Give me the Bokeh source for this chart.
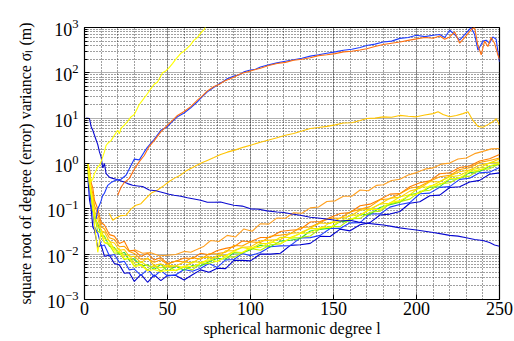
from bokeh.plotting import figure
from bokeh.models import Range1d, FixedTicker
from bokeh.embed import file_html
from bokeh.resources import INLINE

# ---------------- data ----------------
# shared degree grid of the bundle of low-noise curves
L_BUNDLE = [2, 3, 4, 5, 6, 8, 10, 12, 15, 18, 21, 24, 27, 30, 34, 38, 42, 46, 50,
            55, 60, 65, 70, 75, 80, 85, 90, 95, 100,
            106, 112, 118, 124, 130, 136, 142, 148, 154, 160, 166, 172, 178, 184,
            190, 196, 202, 208, 214, 220, 226, 232, 238, 244, 250]

B_BLUE1 = [0.5, 0.16, 0.1, 0.04, 0.034, 0.014, 0.016, 0.009, 0.0095, 0.0062, 0.0058, 0.0038,
           0.0039, 0.0025, 0.0036, 0.0024, 0.0035, 0.0026, 0.0034,
           0.0034, 0.0027, 0.0035, 0.0045, 0.004, 0.0049, 0.0048, 0.0073, 0.0073, 0.0071,
           0.0101, 0.01, 0.0105, 0.0156, 0.0161, 0.0173, 0.0247, 0.0246, 0.0357, 0.0327,
           0.0446, 0.0497, 0.0729, 0.0766, 0.0873, 0.133, 0.143, 0.195, 0.201, 0.295, 0.306,
           0.391, 0.424, 0.58, 0.62]
B_BLUE2 = [0.7, 0.33, 0.12, 0.085, 0.04, 0.029, 0.015, 0.016, 0.0092, 0.0098, 0.0066, 0.007,
           0.0045, 0.0047, 0.0034, 0.0046, 0.0032, 0.0044, 0.0033,
           0.0035, 0.0046, 0.0042, 0.0049, 0.0062, 0.0051, 0.0075, 0.0076, 0.0103, 0.0093,
           0.0109, 0.0146, 0.0152, 0.0154, 0.0229, 0.0232, 0.026, 0.0369, 0.037, 0.0491,
           0.0495, 0.0777, 0.0768, 0.109, 0.125, 0.137, 0.215, 0.222, 0.298, 0.309, 0.447,
           0.471, 0.623, 0.645, 0.819]
B_GREEN = [0.9, 0.5, 0.18, 0.13, 0.062, 0.047, 0.026, 0.025, 0.015, 0.014, 0.0098, 0.011,
           0.0073, 0.0079, 0.0055, 0.0058, 0.0046, 0.006, 0.0042,
           0.0055, 0.0044, 0.0056, 0.0055, 0.0068, 0.0081, 0.0077, 0.0108, 0.0106, 0.0125,
           0.0158, 0.0146, 0.0194, 0.0202, 0.0222, 0.0325, 0.0352, 0.0376, 0.0523, 0.0542,
           0.0739, 0.0761, 0.107, 0.124, 0.14, 0.204, 0.226, 0.299, 0.308, 0.451, 0.469,
           0.629, 0.664, 0.871, 0.968]
B_LIME = [0.7, 0.32, 0.2, 0.09, 0.072, 0.032, 0.029, 0.018, 0.016, 0.0105, 0.0108, 0.0076,
          0.008, 0.0056, 0.006, 0.0045, 0.0057, 0.0042, 0.0054,
          0.0043, 0.0052, 0.0045, 0.0064, 0.0062, 0.0071, 0.0088, 0.0086, 0.0106, 0.0133,
          0.0122, 0.0161, 0.0167, 0.0226, 0.0234, 0.0251, 0.0366, 0.0406, 0.0405, 0.0605,
          0.0616, 0.0841, 0.0886, 0.129, 0.144, 0.164, 0.243, 0.257, 0.356, 0.376, 0.491,
          0.527, 0.739, 0.761, 0.992]
B_YELLOW1 = [1.0, 0.55, 0.22, 0.14, 0.045, 0.011, 0.031, 0.018, 0.0175, 0.0118, 0.0115, 0.008,
             0.0082, 0.0053, 0.0057, 0.0043, 0.0046, 0.0041, 0.0044,
             0.0044, 0.0055, 0.0053, 0.0063, 0.0079, 0.0068, 0.0089, 0.0113, 0.0109, 0.0139,
             0.0141, 0.0187, 0.0172, 0.0224, 0.0286, 0.0295, 0.0389, 0.0387, 0.054, 0.0582,
             0.072, 0.0979, 0.0963, 0.137, 0.152, 0.195, 0.225, 0.324, 0.342, 0.462, 0.478,
             0.662, 0.722, 0.89, 0.998]
B_YELLOW2 = [0.8, 0.38, 0.24, 0.11, 0.082, 0.041, 0.035, 0.022, 0.02, 0.0128, 0.0132, 0.0091,
             0.0097, 0.0064, 0.0068, 0.0055, 0.0054, 0.005, 0.0057,
             0.0055, 0.0051, 0.0068, 0.0066, 0.0071, 0.0094, 0.0093, 0.0116, 0.014, 0.0131,
             0.0171, 0.0174, 0.0237, 0.0234, 0.0286, 0.0368, 0.0366, 0.0497, 0.0523, 0.0726,
             0.0729, 0.0979, 0.127, 0.133, 0.185, 0.204, 0.303, 0.304, 0.396, 0.508, 0.543,
             0.707, 0.794, 1.03, 1.07]
B_GOLD = [0.85, 0.55, 0.25, 0.18, 0.09, 0.06, 0.033, 0.031, 0.019, 0.0176, 0.0122, 0.0127,
          0.0089, 0.009, 0.0065, 0.0083, 0.0056, 0.0061, 0.0053,
          0.0055, 0.0067, 0.0064, 0.0084, 0.0086, 0.0082, 0.0118, 0.012, 0.0142, 0.0145,
          0.0196, 0.0204, 0.0211, 0.029, 0.0296, 0.0372, 0.0488, 0.0475, 0.063, 0.0684,
          0.0933, 0.0984, 0.128, 0.172, 0.179, 0.246, 0.285, 0.396, 0.397, 0.528, 0.655,
          0.718, 0.912, 1.02, 1.26]
B_ORANGE1 = [0.9, 0.66, 0.3, 0.22, 0.118, 0.077, 0.041, 0.036, 0.023, 0.021, 0.0146, 0.0149,
             0.0114, 0.0104, 0.0077, 0.0079, 0.0066, 0.0075, 0.006,
             0.0071, 0.0067, 0.0084, 0.0077, 0.0102, 0.0103, 0.011, 0.0156, 0.0151, 0.0187,
             0.018, 0.0248, 0.0263, 0.0281, 0.0386, 0.0398, 0.05, 0.0626, 0.0621, 0.0851,
             0.0972, 0.112, 0.158, 0.167, 0.216, 0.284, 0.314, 0.405, 0.51, 0.546, 0.737,
             0.808, 1.05, 1.16, 1.32]
B_ORANGE2 = [1.0, 0.77, 0.38, 0.29, 0.155, 0.099, 0.05, 0.044, 0.027, 0.025, 0.0172, 0.0193,
             0.0118, 0.0121, 0.0089, 0.0105, 0.0074, 0.0084, 0.0062,
             0.007, 0.0082, 0.008, 0.0105, 0.0097, 0.012, 0.0134, 0.0145, 0.0195, 0.0188,
             0.0233, 0.0235, 0.0316, 0.0336, 0.0351, 0.0512, 0.0527, 0.0645, 0.0788, 0.0828,
             0.117, 0.127, 0.161, 0.211, 0.216, 0.308, 0.375, 0.414, 0.594, 0.627, 0.819,
             0.879, 1.14, 1.27, 1.58]

# rising orange curve that leaves the bundle
L_ORANGE_E = [30, 35, 40, 45, 50, 55, 60, 64, 68, 72, 76, 81, 86, 91, 96, 101, 106, 111,
              116, 121, 126, 131, 136, 141, 146, 151, 156, 161, 166, 171, 176, 180, 185,
              190, 195, 200, 205, 210, 215, 220, 225, 230, 235, 240, 245, 250]
V_ORANGE_E = [0.0126, 0.0105, 0.0108, 0.0092, 0.0095, 0.0098, 0.0115, 0.011, 0.0128, 0.015,
              0.02, 0.019, 0.026, 0.024, 0.036, 0.032, 0.047, 0.046, 0.063, 0.062, 0.082,
              0.08, 0.105, 0.11, 0.145, 0.15, 0.19, 0.19, 0.26, 0.25, 0.33, 0.34, 0.42, 0.45,
              0.56, 0.63, 0.75, 0.8, 0.97, 1.02, 1.26, 1.32, 1.65, 1.85, 2.1, 2.15]

# gold curve (0.07 -> ~10 m)
L_GOLD_C = [15, 17, 19, 22, 25, 28, 31, 34, 37, 40, 44, 48, 51, 54, 58, 61, 64, 68, 71, 74,
            78, 82, 86, 91, 96, 101, 106, 111, 116, 121, 126, 131, 136, 141, 146, 151, 156,
            161, 166, 170, 175, 180, 185, 190, 195, 200, 205, 210, 213, 216, 220, 224, 228,
            231, 234, 237, 240, 243, 246, 248, 250]
V_GOLD_C = [0.079, 0.056, 0.063, 0.071, 0.072, 0.1, 0.12, 0.13, 0.17, 0.22, 0.26, 0.33, 0.4,
            0.47, 0.56, 0.68, 0.78, 0.93, 1.05, 1.17, 1.35, 1.58, 1.78, 2.0, 2.3, 2.6, 2.95,
            3.3, 3.7, 4.2, 4.6, 5.2, 5.9, 6.2, 6.6, 7.1, 7.8, 7.9, 8.9, 9.8, 10.0, 10.7, 10.5,
            11.5, 11.0, 10.7, 11.7, 12.6, 13.8, 12.0, 10.7, 11.5, 12.6, 13.8, 8.9, 6.6, 6.3,
            7.2, 8.3, 9.8, 7.1]

# decreasing blue curve (10 m -> 0.015 m)
L_BLUE_D = [1, 3, 4, 5, 6, 7, 8, 9, 10, 11, 12, 13, 14, 15, 17, 19, 21, 23, 26, 29, 32, 35,
            39, 43, 47, 51, 54, 58, 62, 66, 70, 74, 78, 82, 86, 90, 95, 100, 105, 110, 116,
            120, 125, 130, 136, 142, 148, 154, 160, 165, 170, 175, 180, 185, 190, 195, 200,
            205, 210, 215, 220, 225, 230, 235, 240, 244, 247, 250]
V_BLUE_D = [10.0, 9.8, 6.5, 5.4, 4.2, 3.3, 2.6, 1.8, 1.4, 0.8, 1.0, 0.6, 0.55, 0.5, 0.47,
            0.45, 0.42, 0.4, 0.36, 0.33, 0.32, 0.31, 0.26, 0.25, 0.23, 0.21, 0.2, 0.19,
            0.175, 0.165, 0.155, 0.14, 0.14, 0.141, 0.13, 0.12, 0.115, 0.1, 0.098, 0.09,
            0.085, 0.083, 0.077, 0.072, 0.065, 0.062, 0.058, 0.054, 0.056, 0.051, 0.048,
            0.046, 0.044, 0.041, 0.038, 0.036, 0.034, 0.032, 0.03, 0.028, 0.026, 0.025,
            0.023, 0.021, 0.02, 0.018, 0.016, 0.015]

# steeply rising yellow curve
L_YELLOW_B = [2, 3, 4, 5, 6, 7, 8, 9, 10, 11, 12, 13, 14, 16, 18, 20, 21, 22, 24, 26, 28, 30,
              33, 35, 38, 40, 42, 44, 47, 49, 51, 53, 55, 58, 60, 62, 64, 66, 68, 70, 72, 73]
V_YELLOW_B = [1.0, 0.6, 0.4, 0.45, 0.6, 0.7, 0.85, 0.9, 1.1, 1.4, 1.8, 2.5, 2.8, 3.2, 4.2,
              5.4, 4.5, 6.0, 7.0, 8.5, 10.7, 12.0, 20.0, 25.0, 35.0, 45.0, 56.0, 63.0, 100.0,
              110.0, 130.0, 160.0, 200.0, 270.0, 300.0, 355.0, 420.0, 525.0, 600.0, 750.0,
              900.0, 1050.0]

# large blue / orange curves (0.1 m -> ~1000 m)
L_BLUE_A = [7, 8, 9, 10, 11, 12, 14, 16, 19, 22, 25, 28, 30, 33, 36, 38, 42, 46, 50, 53, 56,
            60, 64, 68, 71, 74, 78, 81, 84, 86, 90, 93, 96, 100, 103, 106, 111, 116, 121, 126,
            131, 136, 141, 146, 151, 156, 161, 166, 170, 175, 180, 185, 190, 195, 200, 205,
            210, 214, 217, 220, 223, 226, 229, 233, 235, 237, 240, 242, 244, 246, 248, 249,
            250]
V_BLUE_A = [0.06, 0.1, 0.12, 0.15, 0.2, 0.22, 0.33, 0.38, 0.43, 0.45, 0.55, 0.9, 1.25, 1.2,
            1.8, 2.3, 3.4, 5.4, 6.5, 8.5, 10.7, 13.0, 17.0, 23.0, 30.0, 38.0, 48.0, 57.0,
            66.0, 74.0, 85.0, 90.0, 105.0, 115.0, 120.0, 135.0, 150.0, 166.0, 180.0, 195.0,
            210.0, 234.0, 250.0, 270.0, 290.0, 316.0, 330.0, 363.0, 400.0, 430.0, 480.0,
            500.0, 575.0, 600.0, 676.0, 630.0, 676.0, 700.0, 600.0, 870.0, 700.0, 525.0,
            700.0, 1000.0, 700.0, 316.0, 500.0, 525.0, 450.0, 620.0, 550.0, 300.0, 175.0]
L_ORANGE_A = [20, 22, 24, 27, 30, 33, 36, 39, 42, 46, 50, 53, 56, 60, 64, 68, 71, 74, 78, 81,
              84, 87, 90, 93, 96, 100, 103, 106, 111, 116, 121, 126, 131, 136, 141, 146, 151,
              156, 161, 166, 170, 175, 180, 185, 190, 195, 200, 205, 210, 214, 217, 220, 223,
              226, 229, 233, 235, 237, 239, 241, 243, 245, 247, 249, 250]
V_ORANGE_A = [0.2, 0.3, 0.38, 0.47, 0.75, 1.1, 1.5, 2.4, 3.2, 5.0, 7.0, 8.9, 11.5, 14.0, 18.0,
              25.0, 31.0, 40.0, 50.0, 55.0, 65.0, 72.0, 80.0, 92.0, 100.0, 110.0, 118.0,
              126.0, 145.0, 160.0, 170.0, 190.0, 200.0, 215.0, 240.0, 250.0, 265.0, 290.0,
              300.0, 320.0, 340.0, 380.0, 420.0, 450.0, 480.0, 520.0, 560.0, 600.0, 580.0,
              650.0, 550.0, 620.0, 800.0, 450.0, 600.0, 900.0, 1000.0, 400.0, 250.0, 500.0,
              380.0, 600.0, 450.0, 250.0, 200.0]

X_TICKS = [0, 50, 100, 150, 200, 250]
Y_TICKS = [1e-3, 1e-2, 1e-1, 1e0, 1e1, 1e2, 1e3]

# ---------------- figure ----------------
FONT = "Liberation Serif"

p = figure(width=514, height=341, y_axis_type="log",
           x_range=Range1d(0, 250), y_range=Range1d(1e-3, 1e3),
           output_backend="svg", toolbar_location=None,
           min_border_left=84, min_border_right=15, min_border_top=27,
           min_border_bottom=42)
p.background_fill_color = "white"
p.border_fill_color = "white"
p.outline_line_color = "black"
p.outline_line_width = 1.2
p.outline_line_alpha = 1.0

x_minor = list(range(0, 251, 10))
y_minor = [m * 10.0 ** e for e in range(-3, 3) for m in range(2, 10)]
xt = FixedTicker(ticks=X_TICKS, minor_ticks=x_minor)
yt = FixedTicker(ticks=Y_TICKS, minor_ticks=y_minor)

p.xaxis.ticker = xt
p.yaxis.ticker = yt
p.xgrid.ticker = xt
p.ygrid.ticker = yt

for ax in (p.xaxis[0], p.yaxis[0]):
    ax.major_tick_in = 5
    ax.major_tick_out = 0
    ax.minor_tick_in = 0
    ax.minor_tick_out = 0
    ax.axis_line_color = None
    ax.major_tick_line_color = "black"
    ax.minor_tick_line_color = "black"
    ax.major_label_text_font = FONT
    ax.major_label_text_font_size = "18px"
    ax.major_label_text_color = "black"
    ax.axis_label_text_font = FONT
    ax.axis_label_text_font_size = "16px"
    ax.axis_label_text_font_style = "normal"
    ax.axis_label_text_color = "black"
p.yaxis.minor_tick_in = 3
p.xaxis.major_label_standoff = 2
p.xaxis.axis_label_standoff = 2
p.yaxis.major_label_standoff = 6
p.yaxis.axis_label_standoff = 10
p.xaxis.axis_label = "spherical harmonic degree l"
p.yaxis.axis_label = "square root of degree (error) variance σₗ (m)"

for g in (p.xgrid[0], p.ygrid[0]):
    g.grid_line_color = "#555555"
    g.grid_line_dash = "1 1"
    g.grid_line_alpha = 0.9
    g.minor_grid_line_color = "#000000"
    g.minor_grid_line_dash = "1 2"
    g.minor_grid_line_alpha = 0.75

LW = 1.1
bundle = [
    (B_BLUE1, "#0000d0"), (B_BLUE2, "#2040ff"),
    (B_ORANGE2, "#ff7f00"), (B_ORANGE1, "#ffa200"),
    (B_GREEN, "#33dd33"), (B_LIME, "#b8f000"),
    (B_GOLD, "#ffcc00"), (B_YELLOW2, "#f0e800"), (B_YELLOW1, "#ffff00"),
]
for vals, col in bundle:
    p.line(L_BUNDLE, vals, line_color=col, line_width=LW)

p.line(L_ORANGE_E, V_ORANGE_E, line_color="#ffa020", line_width=LW)
p.line(L_GOLD_C, V_GOLD_C, line_color="#ffc400", line_width=LW)
p.line(L_BLUE_D, V_BLUE_D, line_color="#0a0ad0", line_width=LW)
p.line(L_YELLOW_B, V_YELLOW_B, line_color="#ffff00", line_width=LW)
p.line(L_BLUE_A, V_BLUE_A, line_color="#1f3cff", line_width=LW)
p.line(L_ORANGE_A, V_ORANGE_A, line_color="#ff7010", line_width=LW)

open("out.html", "w").write(file_html(p, INLINE))
